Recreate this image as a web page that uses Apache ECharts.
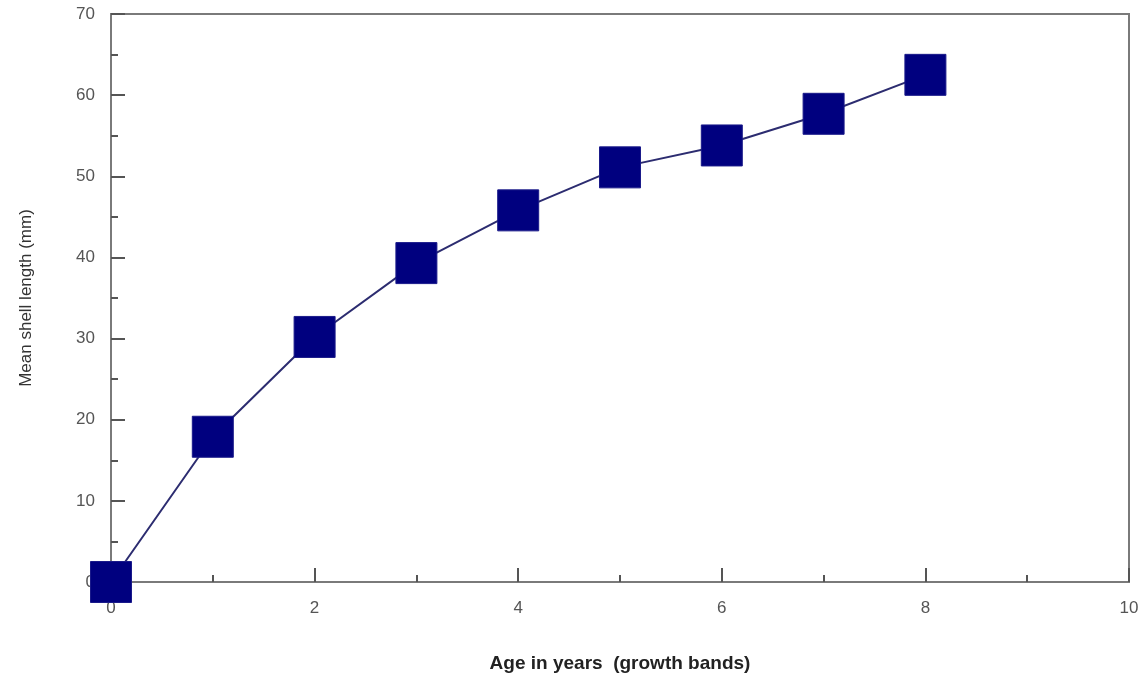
<!DOCTYPE html>
<html>
<head>
<meta charset="utf-8">
<style>
html,body{margin:0;padding:0;background:#fff;}
#chart{width:1145px;height:679px;}
</style>
<script src="https://cdn.jsdelivr.net/npm/echarts@6/dist/echarts.min.js"></script>
</head>
<body>
<div id="chart"></div>
<script>
const ages = [0, 1, 2, 3, 4, 5, 6, 7, 8];
const meanLength = [0, 17.9, 30.2, 39.3, 45.8, 51.1, 53.8, 57.7, 62.5];
const xAxisTitle = 'Age in years  (growth bands)';
const yAxisTitle = 'Mean shell length (mm)';

const chart = echarts.init(document.getElementById('chart'), null, {renderer: 'canvas'});
const labelFont = {color: '#555', fontSize: 17, fontFamily: 'Liberation Sans, Arial, sans-serif'};
chart.setOption({
  animation: false,
  backgroundColor: '#fff',
  grid: {left: 111, top: 14, right: 16, bottom: 97, show: true, borderColor: '#7a7a7a', borderWidth: 2, backgroundColor: 'transparent'},
  xAxis: {
    type: 'value', min: 0, max: 10, interval: 2,
    name: xAxisTitle, nameLocation: 'middle', nameGap: 72,
    nameTextStyle: {color: '#222', fontSize: 19, fontWeight: 'bold', fontFamily: 'Liberation Sans, Arial, sans-serif'},
    axisLine: {show: true, lineStyle: {color: '#7a7a7a', width: 2}},
    axisTick: {show: true, inside: true, length: 14, lineStyle: {color: '#555', width: 2}},
    minorTick: {show: true, splitNumber: 2, length: 7, lineStyle: {color: '#555', width: 2}},
    axisLabel: Object.assign({margin: 18}, labelFont),
    splitLine: {show: false}
  },
  yAxis: {
    type: 'value', min: 0, max: 70, interval: 10,
    name: yAxisTitle, nameLocation: 'middle', nameGap: 76,
    nameTextStyle: {color: '#333', fontSize: 17, fontFamily: 'Liberation Sans, Arial, sans-serif'},
    axisLine: {show: true, lineStyle: {color: '#7a7a7a', width: 2}},
    axisTick: {show: true, inside: true, length: 14, lineStyle: {color: '#555', width: 2}},
    minorTick: {show: true, splitNumber: 2, length: 7, lineStyle: {color: '#555', width: 2}},
    axisLabel: Object.assign({margin: 16}, labelFont),
    splitLine: {show: false}
  },
  series: [{
    type: 'line',
    data: ages.map((a, i) => [a, meanLength[i]]),
    clip: false,
    symbol: 'rect',
    symbolSize: 41,
    showAllSymbol: true,
    itemStyle: {color: '#00007f', borderColor: '#1a1a8a', borderWidth: 1},
    lineStyle: {color: '#2c2c70', width: 2},
    z: 5
  }]
});
</script>
</body>
</html>
